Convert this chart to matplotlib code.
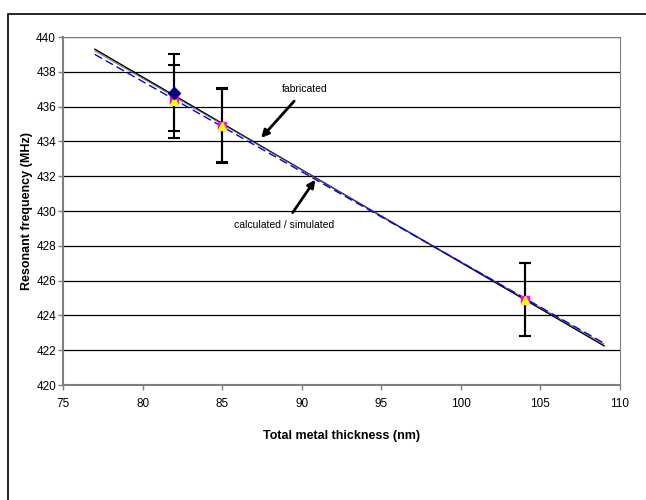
import matplotlib
matplotlib.use("Agg")
import matplotlib.pyplot as plt
from matplotlib.patches import Rectangle

plt.rcParams['font.family'] = ['Liberation Sans', 'DejaVu Sans']

# Data
fab_x = [82, 85, 104]
fab_y = [436.8, 434.9, 424.9]
fab_err = [2.2, 2.15, 2.1]
calc_x = [82, 85, 104]
calc_y = [436.3, 434.9, 424.9]
calc_err = [2.1, 2.1, 2.1]
sim_y = [436.4, 434.9, 424.9]

fit_fab_x = [77, 109]
fit_fab_y = [439.3, 422.25]
fit_calc_x = [77, 109]
fit_calc_y = [439.0, 422.4]
fit_sim_y = [439.2, 422.35]

xticks = [75, 80, 85, 90, 95, 100, 105, 110]
yticks = [420, 422, 424, 426, 428, 430, 432, 434, 436, 438, 440]

fig = plt.figure(figsize=(6.46, 5.0), dpi=100)
ax = fig.add_axes([63/646, 1-385/500, (620-63)/646, (385-37)/500])

for y in yticks:
    ax.axhline(y, color='black', lw=0.9, zorder=0)

ax.plot(fit_fab_x, fit_fab_y, color='black', lw=1.0, zorder=2)
ax.plot(fit_calc_x, fit_sim_y, color='#606060', lw=0.6, zorder=2)
ax.plot(fit_calc_x, fit_calc_y, color='#0000FF', lw=1.0, dashes=(6, 3), zorder=3)

ax.errorbar(fab_x, fab_y, yerr=fab_err, fmt='none', ecolor='black', elinewidth=1.5, capsize=4.5, capthick=1.5, zorder=4)
ax.errorbar(calc_x, calc_y, yerr=calc_err, fmt='none', ecolor='black', elinewidth=1.5, capsize=4.5, capthick=1.5, zorder=4)

ax.plot(calc_x, sim_y, 's', color='#FF00FF', ms=5.5, zorder=5)
ax.plot(calc_x, calc_y, '^', color='#FFFF00', ms=6, zorder=6)
ax.plot(fab_x[:1], fab_y[:1], 'D', color='#000080', ms=6, zorder=7)

ax.annotate('fabricated', xy=(87.45, 434.2), xytext=(90.2, 437.0),
            fontsize=7.5, ha='center', va='center',
            arrowprops=dict(arrowstyle='-|>', color='black', lw=2, shrinkA=4, shrinkB=0, mutation_scale=11))
ax.annotate('calculated / simulated', xy=(90.85, 431.8), xytext=(88.9, 429.2),
            fontsize=7.5, ha='center', va='center',
            arrowprops=dict(arrowstyle='-|>', color='black', lw=2, shrinkA=4, shrinkB=0, mutation_scale=11))

ax.set_xlim(75, 110)
ax.set_ylim(420, 440)
ax.set_xticks(xticks)
ax.set_yticks(yticks)
ax.tick_params(axis='both', labelsize=8.5, direction='out', length=3.5, color='#808080', width=1)
ax.tick_params(axis='x', pad=6)
ax.tick_params(axis='y', pad=1.5)
ax.set_xlabel('Total metal thickness (nm)', fontsize=9, fontweight='bold')
ax.set_ylabel('Resonant frequency (MHz)', fontsize=9, fontweight='bold')
ax.xaxis.set_label_coords((341.5-63)/557, (385-430)/348)
ax.yaxis.set_label_coords((33-63)/557, 0.5)
for s in ['left', 'bottom']:
    ax.spines[s].set_color('#808080')
    ax.spines[s].set_linewidth(1.5)
for s in ['top', 'right']:
    ax.spines[s].set_color('#808080')
    ax.spines[s].set_linewidth(0.8)

fig.patches.append(Rectangle((8/646, -0.01), 1.02, 1-14/500+0.01, transform=fig.transFigure,
                             fill=False, edgecolor='black', lw=1.2))

fig.savefig('out.png', dpi=100)
